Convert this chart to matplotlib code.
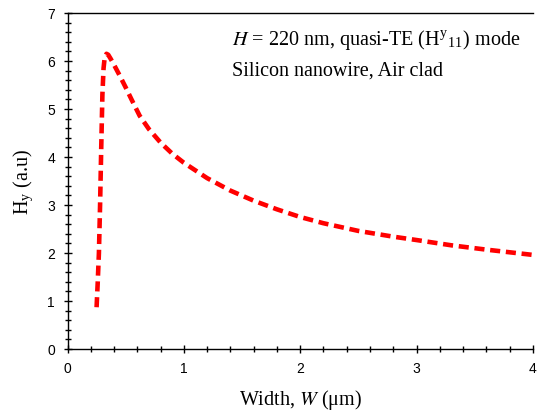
import numpy as np
import matplotlib
matplotlib.use("Agg")
import matplotlib.pyplot as plt
from matplotlib.ticker import MultipleLocator

plt.rcParams['mathtext.fontset'] = 'stix'

# Hy field amplitude against waveguide width
width = [0.25, 0.26, 0.27, 0.28, 0.29, 0.30, 0.31, 0.32, 0.335, 0.35, 0.37,
         0.40, 0.45, 0.50, 0.55, 0.62, 0.70, 0.80, 0.90, 1.00, 1.20, 1.40,
         1.60, 1.80, 2.00, 2.20, 2.50, 2.80, 3.00, 3.30, 3.60, 4.00]
hy = [0.87, 1.40, 2.00, 3.00, 4.20, 5.30, 5.85, 6.08, 6.15, 6.13, 6.05,
      5.92, 5.69, 5.45, 5.20, 4.86, 4.58, 4.30, 4.07, 3.88, 3.56, 3.30,
      3.09, 2.91, 2.75, 2.62, 2.46, 2.34, 2.27, 2.16, 2.07, 1.96]

fig = plt.figure(figsize=(5.37, 4.14), dpi=100)
ax = fig.add_axes([0.1257, 0.1546, 0.8666, 0.8116])

ax.plot(width, hy, color='red', linewidth=3.3, linestyle=(0, (2.2, 1.25)),
        solid_capstyle='butt')

ax.set_xlim(0, 4)
ax.set_ylim(0, 7)
ax.xaxis.set_major_locator(MultipleLocator(1))
ax.xaxis.set_minor_locator(MultipleLocator(0.2))
ax.yaxis.set_major_locator(MultipleLocator(1))
ax.yaxis.set_minor_locator(MultipleLocator(0.2))
ax.tick_params(which='major', direction='inout', length=6, width=1,
               labelsize=10, pad=6)
ax.tick_params(which='minor', direction='inout', length=4, width=1)
for t in ax.get_xticklabels() + ax.get_yticklabels():
    t.set_fontfamily('Liberation Sans')

ax.spines['right'].set_visible(False)
for s in ['left', 'bottom', 'top']:
    ax.spines[s].set_linewidth(1)

ax.set_xlabel("Width, $W$ (\u03bcm)", fontfamily='Liberation Serif',
              fontsize=14.5, labelpad=8)
ax.set_ylabel("H$_\\mathregular{y}$ (a.u)", fontfamily='Liberation Serif',
              fontsize=14.5, labelpad=8)

ax.text(0.353, 0.908, "$H$ = 220 nm, quasi-TE (H$^\\mathregular{y}$$_\\mathregular{11}$) mode",
        transform=ax.transAxes, fontfamily='Liberation Serif', fontsize=14.5,
        va='baseline')
ax.text(0.353, 0.818, "Silicon nanowire, Air clad",
        transform=ax.transAxes, fontfamily='Liberation Serif', fontsize=14.5,
        va='baseline')

fig.savefig("out.png", dpi=100)
